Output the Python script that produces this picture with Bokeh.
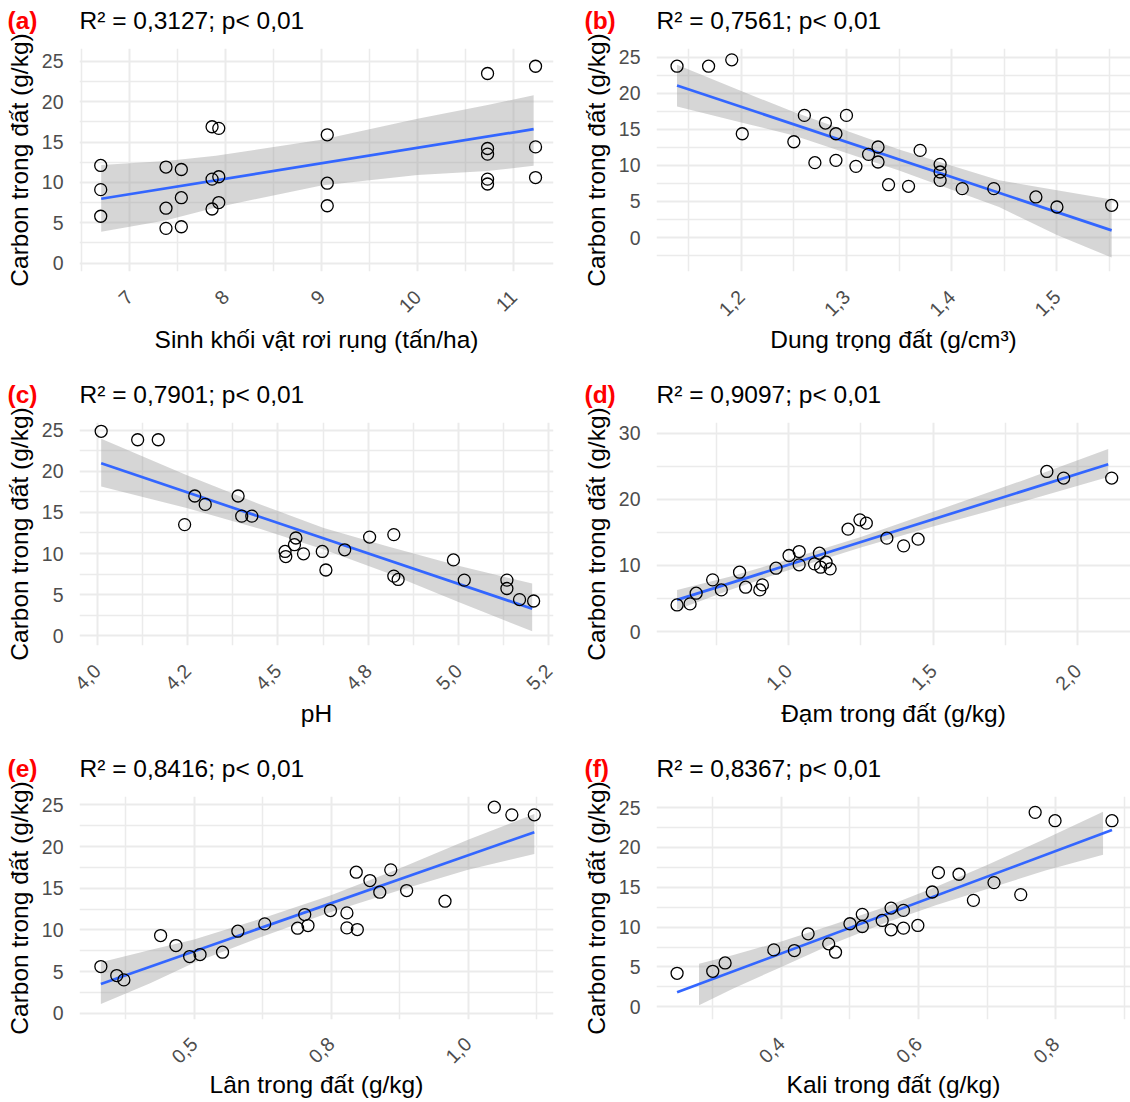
import math
from bokeh.plotting import figure
from bokeh.models import FixedTicker, Range1d
from bokeh.layouts import column, row
from bokeh.core.properties import value
from bokeh.embed import file_html
from bokeh.resources import INLINE

FONT = "Liberation Sans"
Y_TITLE = "Carbon trong đất (g/kg)"

# ---------------- Panel (a) ----------------
a_tag = "(a)"
a_title = "R² = 0,3127; p< 0,01"
a_xlabel = "Sinh khối vật rơi rụng (tấn/ha)"
a_x = [6.70, 6.70, 6.70, 7.38, 7.38, 7.38, 7.54, 7.54, 7.54, 7.86, 7.86, 7.86,
       7.93, 7.93, 7.93, 9.06, 9.06, 9.06, 10.73, 10.73, 10.73, 10.73, 10.73,
       11.23, 11.23, 11.23]
a_y = [12.1, 9.1, 5.8, 11.9, 6.8, 4.3, 11.6, 8.1, 4.5, 16.9, 10.4, 6.7,
       16.7, 10.7, 7.5, 15.9, 9.9, 7.1, 23.5, 14.2, 13.5, 10.4, 9.8,
       24.4, 14.4, 10.6]
a_fit_x = [6.705, 11.21]
a_fit_y = [7.97, 16.6]
a_band_x = [6.705, 7.384, 7.9, 9.0, 10.0, 10.73, 11.21]
a_band_hi = [12.17, 12.66, 13.3, 15.3, 17.9, 19.6, 20.8]
a_band_lo = [3.88, 5.31, 6.9, 9.6, 10.9, 11.4, 12.05]
a_xticks = [7, 8, 9, 10, 11]
a_xtick_labels = ["7", "8", "9", "10", "11"]
a_xminor = [6.5, 7.5, 8.5, 9.5, 10.5, 11.5]
a_yticks = [0, 5, 10, 15, 20, 25]
a_yminor = [-2.5, 2.5, 7.5, 12.5, 17.5, 22.5, 27.5]
a_xrange = (6.479, 11.417)
a_yrange = (-1.05, 26.6)

# ---------------- Panel (b) ----------------
b_tag = "(b)"
b_title = "R² = 0,7561; p< 0,01"
b_xlabel = "Dung trọng đất (g/cm³)"
b_x = [1.139, 1.169, 1.191, 1.201, 1.250, 1.260, 1.270, 1.280, 1.290, 1.290,
       1.300, 1.309, 1.321, 1.330, 1.330, 1.340, 1.359, 1.370, 1.389, 1.389,
       1.389, 1.410, 1.440, 1.480, 1.500, 1.552]
b_y = [23.75, 23.75, 24.63, 14.39, 13.28, 16.93, 10.38, 15.87, 14.39, 10.70,
       16.93, 9.87, 11.53, 12.55, 10.47, 7.33, 7.10, 12.08, 10.15, 9.09,
       7.93, 6.78, 6.78, 5.63, 4.24, 4.47]
b_fit_x = [1.139, 1.552]
b_fit_y = [21.08, 1.0]
b_band_x = [1.139, 1.2, 1.25, 1.35, 1.445, 1.5, 1.552]
b_band_hi = [23.94, 20.3, 17.4, 12.2, 7.93, 6.56, 5.26]
b_band_lo = [18.17, 15.96, 14.16, 9.3, 4.24, 0.36, -2.77]
b_xticks = [1.2, 1.3, 1.4, 1.5]
b_xtick_labels = ["1,2", "1,3", "1,4", "1,5"]
b_xminor = [1.15, 1.25, 1.35, 1.45, 1.55]
b_yticks = [0, 5, 10, 15, 20, 25]
b_yminor = [-2.5, 2.5, 7.5, 12.5, 17.5, 22.5]
b_xrange = (1.1195, 1.5699)
b_yrange = (-4.7, 26.2)

# ---------------- Panel (c) ----------------
c_tag = "(c)"
c_title = "R² = 0,7901; p< 0,01"
c_xlabel = "pH"
c_x = [4.011, 4.112, 4.169, 4.242, 4.270, 4.299, 4.390, 4.400, 4.428, 4.520,
       4.522, 4.546, 4.550, 4.571, 4.623, 4.633, 4.685, 4.754, 4.821, 4.821,
       4.833, 4.986, 5.016, 5.134, 5.134, 5.169, 5.208]
c_y = [24.88, 23.85, 23.85, 13.52, 17.0, 15.98, 17.0, 14.55, 14.55, 10.25,
       9.63, 11.07, 11.89, 9.96, 10.25, 7.99, 10.45, 12.0, 12.3, 7.25,
       6.84, 9.22, 6.76, 6.76, 5.74, 4.39, 4.22]
c_fit_x = [4.011, 5.204]
c_fit_y = [20.98, 3.28]
c_band_x = [4.011, 4.25, 4.45, 4.627, 4.8, 5.0, 5.204]
c_band_hi = [23.98, 19.5, 16.0, 13.1, 10.9, 8.5, 6.35]
c_band_lo = [18.16, 15.5, 13.0, 10.5, 7.7, 4.1, 0.53]
c_xticks = [4.0, 4.25, 4.5, 4.75, 5.0, 5.25]
c_xtick_labels = ["4,0", "4,2", "4,5", "4,8", "5,0", "5,2"]
c_xminor = [4.125, 4.375, 4.625, 4.875, 5.125]
c_yticks = [0, 5, 10, 15, 20, 25]
c_yminor = [2.5, 7.5, 12.5, 17.5, 22.5]
c_xrange = (3.951, 5.263)
c_yrange = (-1.2, 25.95)

# ---------------- Panel (d) ----------------
d_tag = "(d)"
d_title = "R² = 0,9097; p< 0,01"
d_xlabel = "Đạm trong đất (g/kg)"
d_x = [0.615, 0.660, 0.681, 0.738, 0.768, 0.831, 0.852, 0.901, 0.910, 0.957,
       1.002, 1.037, 1.037, 1.090, 1.107, 1.111, 1.130, 1.144, 1.206, 1.247,
       1.269, 1.340, 1.398, 1.448, 1.893, 1.951, 2.117]
d_y = [4.03, 4.19, 5.80, 7.82, 6.30, 8.98, 6.71, 6.30, 7.06, 9.58,
       11.50, 12.10, 10.09, 10.24, 11.85, 9.73, 10.49, 9.48, 15.48, 16.89,
       16.39, 14.12, 12.96, 13.97, 24.20, 23.20, 23.20]
d_fit_x = [0.615, 2.105]
d_fit_y = [4.79, 25.3]
d_band_x = [0.615, 0.8, 1.0, 1.25, 1.5, 1.8, 2.105]
d_band_hi = [6.3, 8.34, 10.89, 14.3, 18.1, 22.7, 27.6]
d_band_lo = [3.3, 6.34, 9.29, 12.7, 15.9, 19.5, 23.35]
d_xticks = [1.0, 1.5, 2.0]
d_xtick_labels = ["1,0", "1,5", "2,0"]
d_xminor = [0.75, 1.25, 1.75]
d_yticks = [0, 10, 20, 30]
d_yminor = [5, 15, 25]
d_xrange = (0.544, 2.182)
d_yrange = (-2.1, 31.6)

# ---------------- Panel (e) ----------------
e_tag = "(e)"
e_title = "R² = 0,8416; p< 0,01"
e_xlabel = "Lân trong đất (g/kg)"
e_x = [0.330, 0.359, 0.372, 0.439, 0.467, 0.492, 0.511, 0.552, 0.580, 0.629,
       0.689, 0.702, 0.708, 0.749, 0.779, 0.779, 0.798, 0.796, 0.821, 0.839,
       0.859, 0.888, 0.958, 1.048, 1.080, 1.121]
e_y = [5.60, 4.52, 4.00, 9.32, 8.12, 6.80, 7.04, 7.32, 9.84, 10.72,
       10.20, 11.84, 10.52, 12.32, 12.04, 10.24, 10.04, 16.92, 15.92, 14.52,
       17.20, 14.72, 13.44, 24.72, 23.80, 23.80]
e_fit_x = [0.330, 1.121]
e_fit_y = [3.52, 21.72]
e_band_x = [0.330, 0.42, 0.5, 0.625, 0.75, 0.875, 1.0, 1.121]
e_band_hi = [6.12, 7.6, 8.85, 11.4, 14.16, 17.36, 20.8, 23.9]
e_band_lo = [1.12, 3.6, 6.05, 9.2, 12.16, 14.76, 17.2, 19.1]
e_xticks = [0.5, 0.75, 1.0]
e_xtick_labels = ["0,5", "0,8", "1,0"]
e_xminor = [0.375, 0.625, 0.875, 1.125]
e_yticks = [0, 5, 10, 15, 20, 25]
e_yminor = [2.5, 7.5, 12.5, 17.5, 22.5]
e_xrange = (0.291, 1.156)
e_yrange = (-0.75, 26.0)

# ---------------- Panel (f) ----------------
f_tag = "(f)"
f_title = "R² = 0,8367; p< 0,01"
f_xlabel = "Kali trong đất (g/kg)"
f_x = [0.248, 0.300, 0.318, 0.389, 0.419, 0.439, 0.469, 0.479, 0.500, 0.518,
       0.518, 0.547, 0.560, 0.560, 0.578, 0.578, 0.599, 0.620, 0.629, 0.659,
       0.680, 0.710, 0.749, 0.770, 0.799, 0.882]
f_y = [4.20, 4.45, 5.50, 7.14, 7.06, 9.16, 7.90, 6.85, 10.42, 11.60,
       10.08, 10.84, 12.39, 9.66, 12.10, 9.87, 10.21, 14.41, 16.85, 16.64,
       13.36, 15.59, 14.08, 24.41, 23.36, 23.36]
f_fit_x = [0.248, 0.882]
f_fit_y = [1.81, 22.18]
f_band_x = [0.28, 0.33, 0.4, 0.475, 0.55, 0.625, 0.7, 0.785, 0.869]
f_band_hi = [5.4, 6.5, 8.2, 10.3, 12.5, 15.05, 17.8, 21.1, 24.5]
f_band_lo = [0.2, 2.3, 5.0, 7.9, 10.5, 12.75, 14.8, 17.1, 19.1]
f_xticks = [0.4, 0.6, 0.8]
f_xtick_labels = ["0,4", "0,6", "0,8"]
f_xminor = [0.3, 0.5, 0.7, 0.9]
f_yticks = [0, 5, 10, 15, 20, 25]
f_yminor = [2.5, 7.5, 12.5, 17.5, 22.5]
f_xrange = (0.218, 0.909)
f_yrange = (-1.6, 26.4)

COL_W = [577, 553]
RIGHT_BORDER = [24, 0]
LEFT_BORDER = 79
FRAME_H = 223
HEADER_H = 34
MAIN_TOP = 14


def make_header(tag, title, col):
    W = COL_W[col]
    h = figure(width=W, height=HEADER_H, x_range=Range1d(0, W), y_range=Range1d(HEADER_H, 0),
               x_axis_type=None, y_axis_type=None, output_backend="svg",
               toolbar_location=None, min_border=0, outline_line_color=None,
               background_fill_color="white", border_fill_color="white")
    h.grid.visible = False
    h.text(x=[7], y=[19.5], text=[tag], text_font=value(FONT), text_font_size="24.5px",
           text_font_style="bold", text_color="#FF0000", text_baseline="middle",
           text_align="left")
    h.text(x=[LEFT_BORDER], y=[19.5], text=[title], text_font=value(FONT),
           text_font_size="24.5px", text_color="black", text_baseline="middle",
           text_align="left")
    return h


def make_panel(xlabel, xs, ys, fit_x, fit_y, band_x, band_lo, band_hi,
               x_range, y_range, xticks, xtick_labels, xminor, yticks, yminor,
               col, bottom_row):
    W = COL_W[col]
    H = (354 if bottom_row else 374) - HEADER_H
    bottom = H - MAIN_TOP - FRAME_H
    p = figure(width=W, height=H, x_range=x_range, y_range=y_range,
               output_backend="svg", toolbar_location=None,
               min_border_left=LEFT_BORDER, min_border_right=RIGHT_BORDER[col],
               min_border_top=MAIN_TOP, min_border_bottom=bottom,
               background_fill_color="white", border_fill_color="white",
               outline_line_color=None)

    p.xaxis.ticker = FixedTicker(ticks=xticks, minor_ticks=xminor)
    p.xaxis.major_label_overrides = {float(t): l for t, l in zip(xticks, xtick_labels)}
    p.yaxis.ticker = FixedTicker(ticks=yticks, minor_ticks=yminor)
    p.xaxis.major_label_orientation = math.pi / 4
    p.xaxis.major_label_text_align = "center"
    p.xaxis.axis_label = xlabel
    p.yaxis.axis_label = Y_TITLE

    for ax in (p.xaxis[0], p.yaxis[0]):
        ax.axis_line_color = None
        ax.major_tick_line_color = None
        ax.minor_tick_line_color = None
        ax.major_tick_out = 0
        ax.major_tick_in = 0
        ax.minor_tick_out = 0
        ax.minor_tick_in = 0
        ax.major_label_text_font = FONT
        ax.major_label_text_font_size = "19.5px"
        ax.major_label_text_color = "#4D4D4D"
        ax.axis_label_text_font = FONT
        ax.axis_label_text_font_size = "24.5px"
        ax.axis_label_text_font_style = "normal"
        ax.axis_label_text_color = "black"

    long_labels = max(len(s) for s in xtick_labels) >= 3
    p.yaxis.major_label_standoff = 16
    p.yaxis.axis_label_standoff = 6
    if bottom_row:
        p.xaxis.major_label_standoff = 21
        p.xaxis.axis_label_standoff = -2
    else:
        p.xaxis.major_label_standoff = 22
        p.xaxis.axis_label_standoff = 0 if long_labels else 4

    p.grid.grid_line_color = "#EBEBEB"
    p.grid.grid_line_width = 2
    p.grid.minor_grid_line_color = "#EBEBEB"
    p.grid.minor_grid_line_width = 1.5

    p.varea(x=band_x, y1=band_lo, y2=band_hi, fill_color="#999999", fill_alpha=0.4)
    p.line(fit_x, fit_y, line_color="#3366FF", line_width=2.7)
    p.scatter(xs, ys, marker="circle", size=12, fill_color=None,
              line_color="black", line_width=1.3)
    return p


ha = make_header(a_tag, a_title, 0)
hb = make_header(b_tag, b_title, 1)
hc = make_header(c_tag, c_title, 0)
hd = make_header(d_tag, d_title, 1)
he = make_header(e_tag, e_title, 0)
hf = make_header(f_tag, f_title, 1)

pa = make_panel(a_xlabel, a_x, a_y, a_fit_x, a_fit_y, a_band_x, a_band_lo, a_band_hi,
                a_xrange, a_yrange, a_xticks, a_xtick_labels, a_xminor, a_yticks, a_yminor, 0, False)
pb = make_panel(b_xlabel, b_x, b_y, b_fit_x, b_fit_y, b_band_x, b_band_lo, b_band_hi,
                b_xrange, b_yrange, b_xticks, b_xtick_labels, b_xminor, b_yticks, b_yminor, 1, False)
pc = make_panel(c_xlabel, c_x, c_y, c_fit_x, c_fit_y, c_band_x, c_band_lo, c_band_hi,
                c_xrange, c_yrange, c_xticks, c_xtick_labels, c_xminor, c_yticks, c_yminor, 0, False)
pd_ = make_panel(d_xlabel, d_x, d_y, d_fit_x, d_fit_y, d_band_x, d_band_lo, d_band_hi,
                 d_xrange, d_yrange, d_xticks, d_xtick_labels, d_xminor, d_yticks, d_yminor, 1, False)
pe = make_panel(e_xlabel, e_x, e_y, e_fit_x, e_fit_y, e_band_x, e_band_lo, e_band_hi,
                e_xrange, e_yrange, e_xticks, e_xtick_labels, e_xminor, e_yticks, e_yminor, 0, True)
pf = make_panel(f_xlabel, f_x, f_y, f_fit_x, f_fit_y, f_band_x, f_band_lo, f_band_hi,
                f_xrange, f_yrange, f_xticks, f_xtick_labels, f_xminor, f_yticks, f_yminor, 1, True)

layout = column(row(ha, hb), row(pa, pb),
                row(hc, hd), row(pc, pd_),
                row(he, hf), row(pe, pf))

open("out.html", "w").write(file_html(layout, INLINE))
